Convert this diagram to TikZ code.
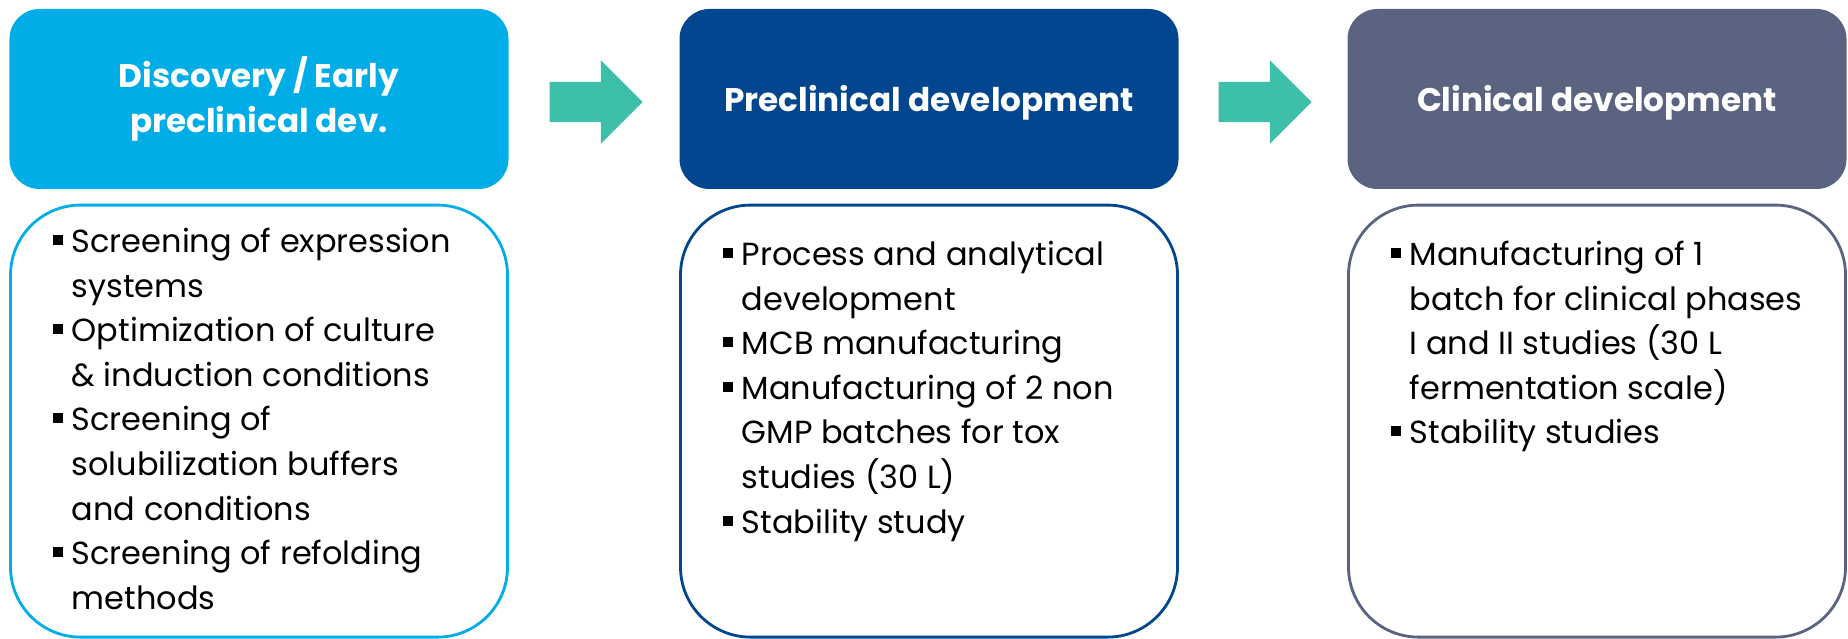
\documentclass[tikz,border=0pt]{standalone}
\usepackage{fontspec}
\setmainfont{Poppins}
\usepackage{tikz}
\usetikzlibrary{shapes.arrows, positioning, calc}

\definecolor{discblue}{HTML}{00ADE6}
\definecolor{preblue}{HTML}{01468F}
\definecolor{clinslate}{HTML}{5A6380}
\definecolor{stepteal}{HTML}{3EBFAA}

% bullet square and hanging indent
\newcommand{\sqb}{\makebox[0.19cm][l]{\rule[0.075cm]{0.10cm}{0.10cm}}}
\newcommand{\cnt}{\hspace*{0.19cm}}
\newcommand{\fst}{\rule{0pt}{0.32cm}}
\newcommand{\oneline}[1]{\raisebox{-0.125cm}[0pt][0pt]{#1}}

\begin{document}
\begin{tikzpicture}[
  hdr/.style={rectangle, rounded corners=0.3cm, minimum width=4.99cm,
              minimum height=1.80cm, text=white, align=center,
              font=\fontsize{9.3pt}{12.7pt}\selectfont\bfseries},
  body/.style={rectangle, draw, line width=0.8pt, rounded corners=0.7cm,
               minimum width=4.97cm, minimum height=4.32cm},
  lst/.style={anchor=north west, inner sep=0pt, align=left,
              font=\fontsize{9.1pt}{12.7pt}\selectfont},
  blk/.style={single arrow, fill=stepteal, inner sep=0.195cm,
              minimum height=0.93cm, minimum width=0.82cm,
              single arrow head extend=0.215cm}
]
\useasboundingbox (0,0) rectangle (18.48,-6.39);

% phase headers
\node[hdr, fill=discblue] (hdisc) at (2.59,-0.99) {Discovery / Early\\preclinical dev.};
\node[hdr, fill=preblue] (hpre) at (9.29,-0.99) {\oneline{Preclinical development}};
\node[hdr, fill=clinslate] (hclin) at (15.97,-0.99) {\oneline{Clinical development}};

% block arrows
\node[blk] (a12) at ($(hdisc.east)!0.5!(hpre.west)+(-0.08,-0.03)$) {};
\node[blk] (a23) at ($(hpre.east)!0.5!(hclin.west)+(-0.08,-0.03)$) {};

% activity boxes
\node[body, draw=discblue, below=0.14cm of hdisc] (bdisc) {};
\node[body, draw=preblue, below=0.14cm of hpre] (bpre) {};
\node[body, draw=clinslate, below=0.14cm of hclin] (bclin) {};

\node[lst] (ldisc) at ($(bdisc.north west)+(0.43,-0.16)$) {\fst\sqb Screening of expression\\
  \cnt systems\\
  \sqb Optimization of culture\\
  \cnt \& induction conditions\\
  \sqb Screening of\\
  \cnt solubilization buffers\\
  \cnt and conditions\\
  \sqb Screening of refolding\\
  \cnt methods};
\node[lst] (lpre) at ($(bpre.north west)+(0.43,-0.29)$) {\fst\sqb Process and analytical\\
  \cnt development\\
  \sqb MCB manufacturing\\
  \sqb Manufacturing of 2 non\\
  \cnt GMP batches for tox\\
  \cnt studies (30 L)\\
  \sqb Stability study};
\node[lst] (lclin) at ($(bclin.north west)+(0.43,-0.29)$) {\fst\sqb Manufacturing of 1\\
  \cnt batch for clinical phases\\
  \cnt I and II studies (30 L\\
  \cnt fermentation scale)\\
  \sqb Stability studies};
\end{tikzpicture}
\end{document}
